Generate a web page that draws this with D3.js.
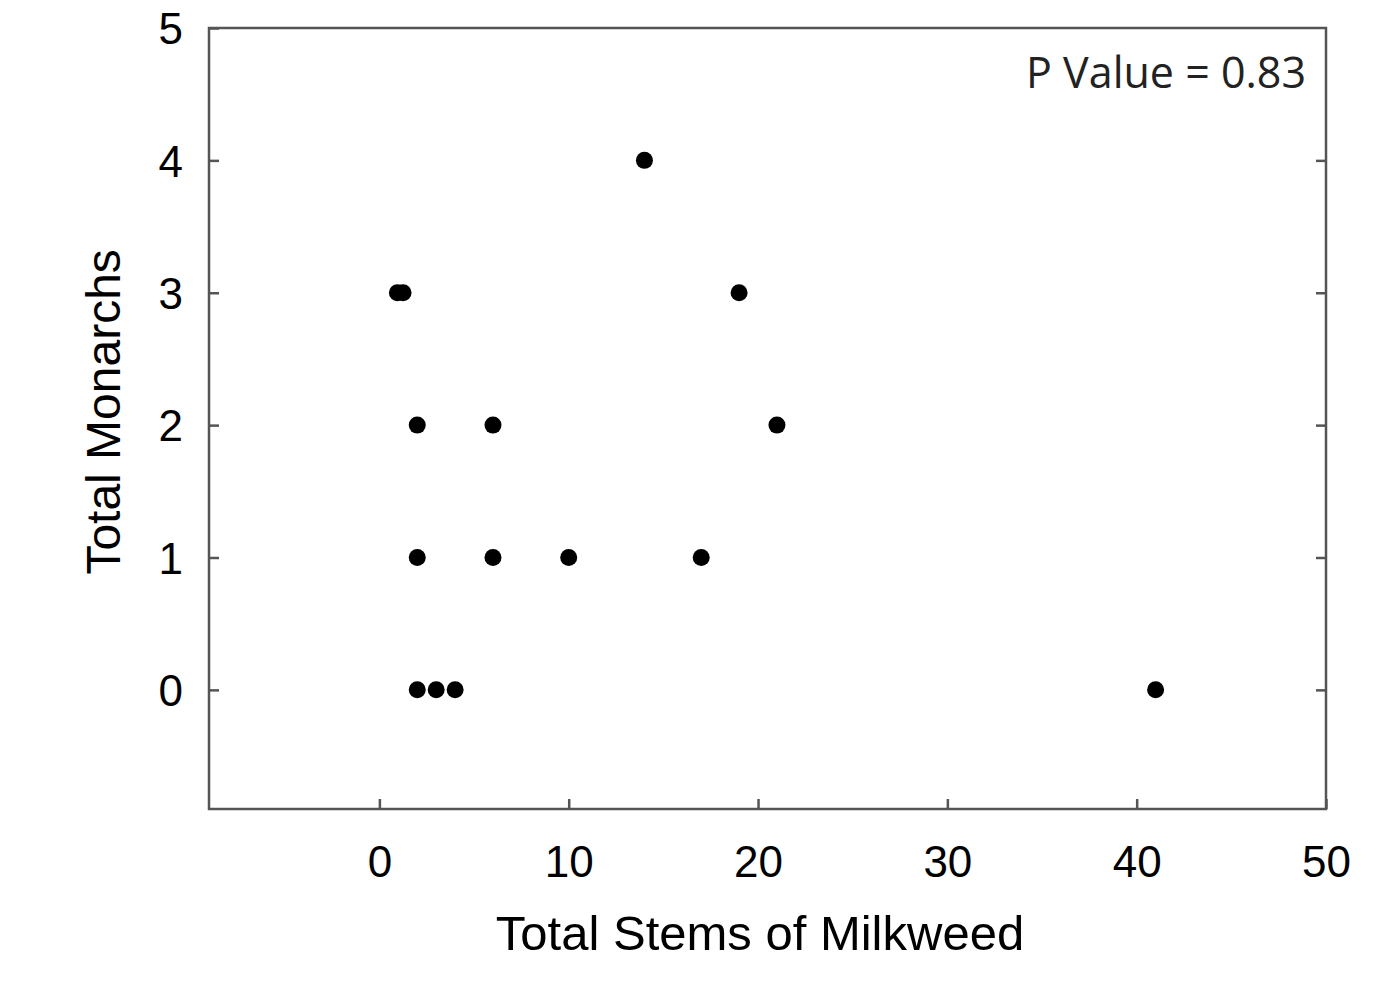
<!DOCTYPE html>
<html>
<head>
<meta charset="utf-8">
<script src="https://cdn.jsdelivr.net/npm/d3@7"></script>
<style>
  body { margin: 0; background: #fff; }
  .tick text { font-family: "Liberation Sans", Arial, sans-serif; }
</style>
</head>
<body>
<div id="scatter"></div>
<script>
// data
var stems = [0.95, 1.25, 2, 6, 21, 14, 19, 2, 6, 10, 17, 2, 3, 4, 41];
var monarchs = [3, 3, 2, 2, 2, 4, 3, 1, 1, 1, 1, 0, 0, 0, 0];
var xTicks = [0, 10, 20, 30, 40, 50];
var yTicks = [0, 1, 2, 3, 4, 5];
var pValueText = "P Value = 0.83";

var svgWidth = 1382;
var svgHeight = 989;

var margin = { top: 28, bottom: 180, right: 56, left: 209 };
var width = svgWidth - margin.left - margin.right;
var height = svgHeight - margin.top - margin.bottom;

var svg = d3.select("#scatter")
    .append("svg")
    .attr("width", svgWidth)
    .attr("height", svgHeight);

var chartGroup = svg.append("g")
    .attr("transform", `translate(${margin.left}, ${margin.top})`);

var xScale = d3.scaleLinear().domain([-9, 50]).range([0, width]);
var yScale = d3.scaleLinear().domain([-0.9, 5]).range([height, 0]);

var axisColor = "#555";

// bottom axis, ticks pointing inward
var xAxis = chartGroup.append("g")
    .attr("transform", `translate(0, ${height})`)
    .call(d3.axisBottom(xScale).tickValues(xTicks).tickFormat(d3.format("d"))
        .tickSizeInner(-10).tickSizeOuter(0).tickPadding(37));

// left axis
var yAxis = chartGroup.append("g")
    .call(d3.axisLeft(yScale).tickValues(yTicks).tickFormat(d3.format("d"))
        .tickSizeInner(-10).tickSizeOuter(0).tickPadding(26));

// right axis, ticks only
var yAxisRight = chartGroup.append("g")
    .attr("transform", `translate(${width}, 0)`)
    .call(d3.axisRight(yScale).tickValues(yTicks.slice(0, 5)).tickSizeInner(-10).tickSizeOuter(0).tickFormat(""));

[xAxis, yAxis, yAxisRight].forEach(function (g) {
    g.select(".domain").remove();
    g.selectAll("line").attr("stroke", axisColor).attr("stroke-width", 2.5);
    g.selectAll("text")
        .attr("fill", "#000")
        .style("font-size", "44px");
});
xAxis.selectAll("text").attr("dy", "0.71em");
yAxis.selectAll("text").attr("dy", "0.36em");

// frame
chartGroup.append("rect")
    .attr("x", 0)
    .attr("y", 0)
    .attr("width", width)
    .attr("height", height)
    .attr("fill", "none")
    .attr("stroke", axisColor)
    .attr("stroke-width", 2.5);

// points
chartGroup.selectAll("circle")
    .data(stems)
    .enter()
    .append("circle")
    .attr("cx", d => xScale(d))
    .attr("cy", (d, i) => yScale(monarchs[i]))
    .attr("r", 8.5)
    .attr("fill", "#000");

// p value
chartGroup.append("text")
    .attr("x", width - 20)
    .attr("y", 60)
    .attr("text-anchor", "end")
    .style("font-family", "'Open Sans', sans-serif")
    .style("font-size", "43px")
    .attr("fill", "#222")
    .text(pValueText);

// axis labels
svg.append("text")
    .attr("transform", `translate(120, ${margin.top + yScale(2.1)}) rotate(-90)`)
    .attr("text-anchor", "middle")
    .style("font-family", "'Liberation Sans', Arial, sans-serif")
    .style("font-size", "48px")
    .text("Total Monarchs");

svg.append("text")
    .attr("x", 760)
    .attr("y", 950)
    .attr("text-anchor", "middle")
    .style("font-family", "'Liberation Sans', Arial, sans-serif")
    .style("font-size", "49px")
    .text("Total Stems of Milkweed");
</script>
</body>
</html>
